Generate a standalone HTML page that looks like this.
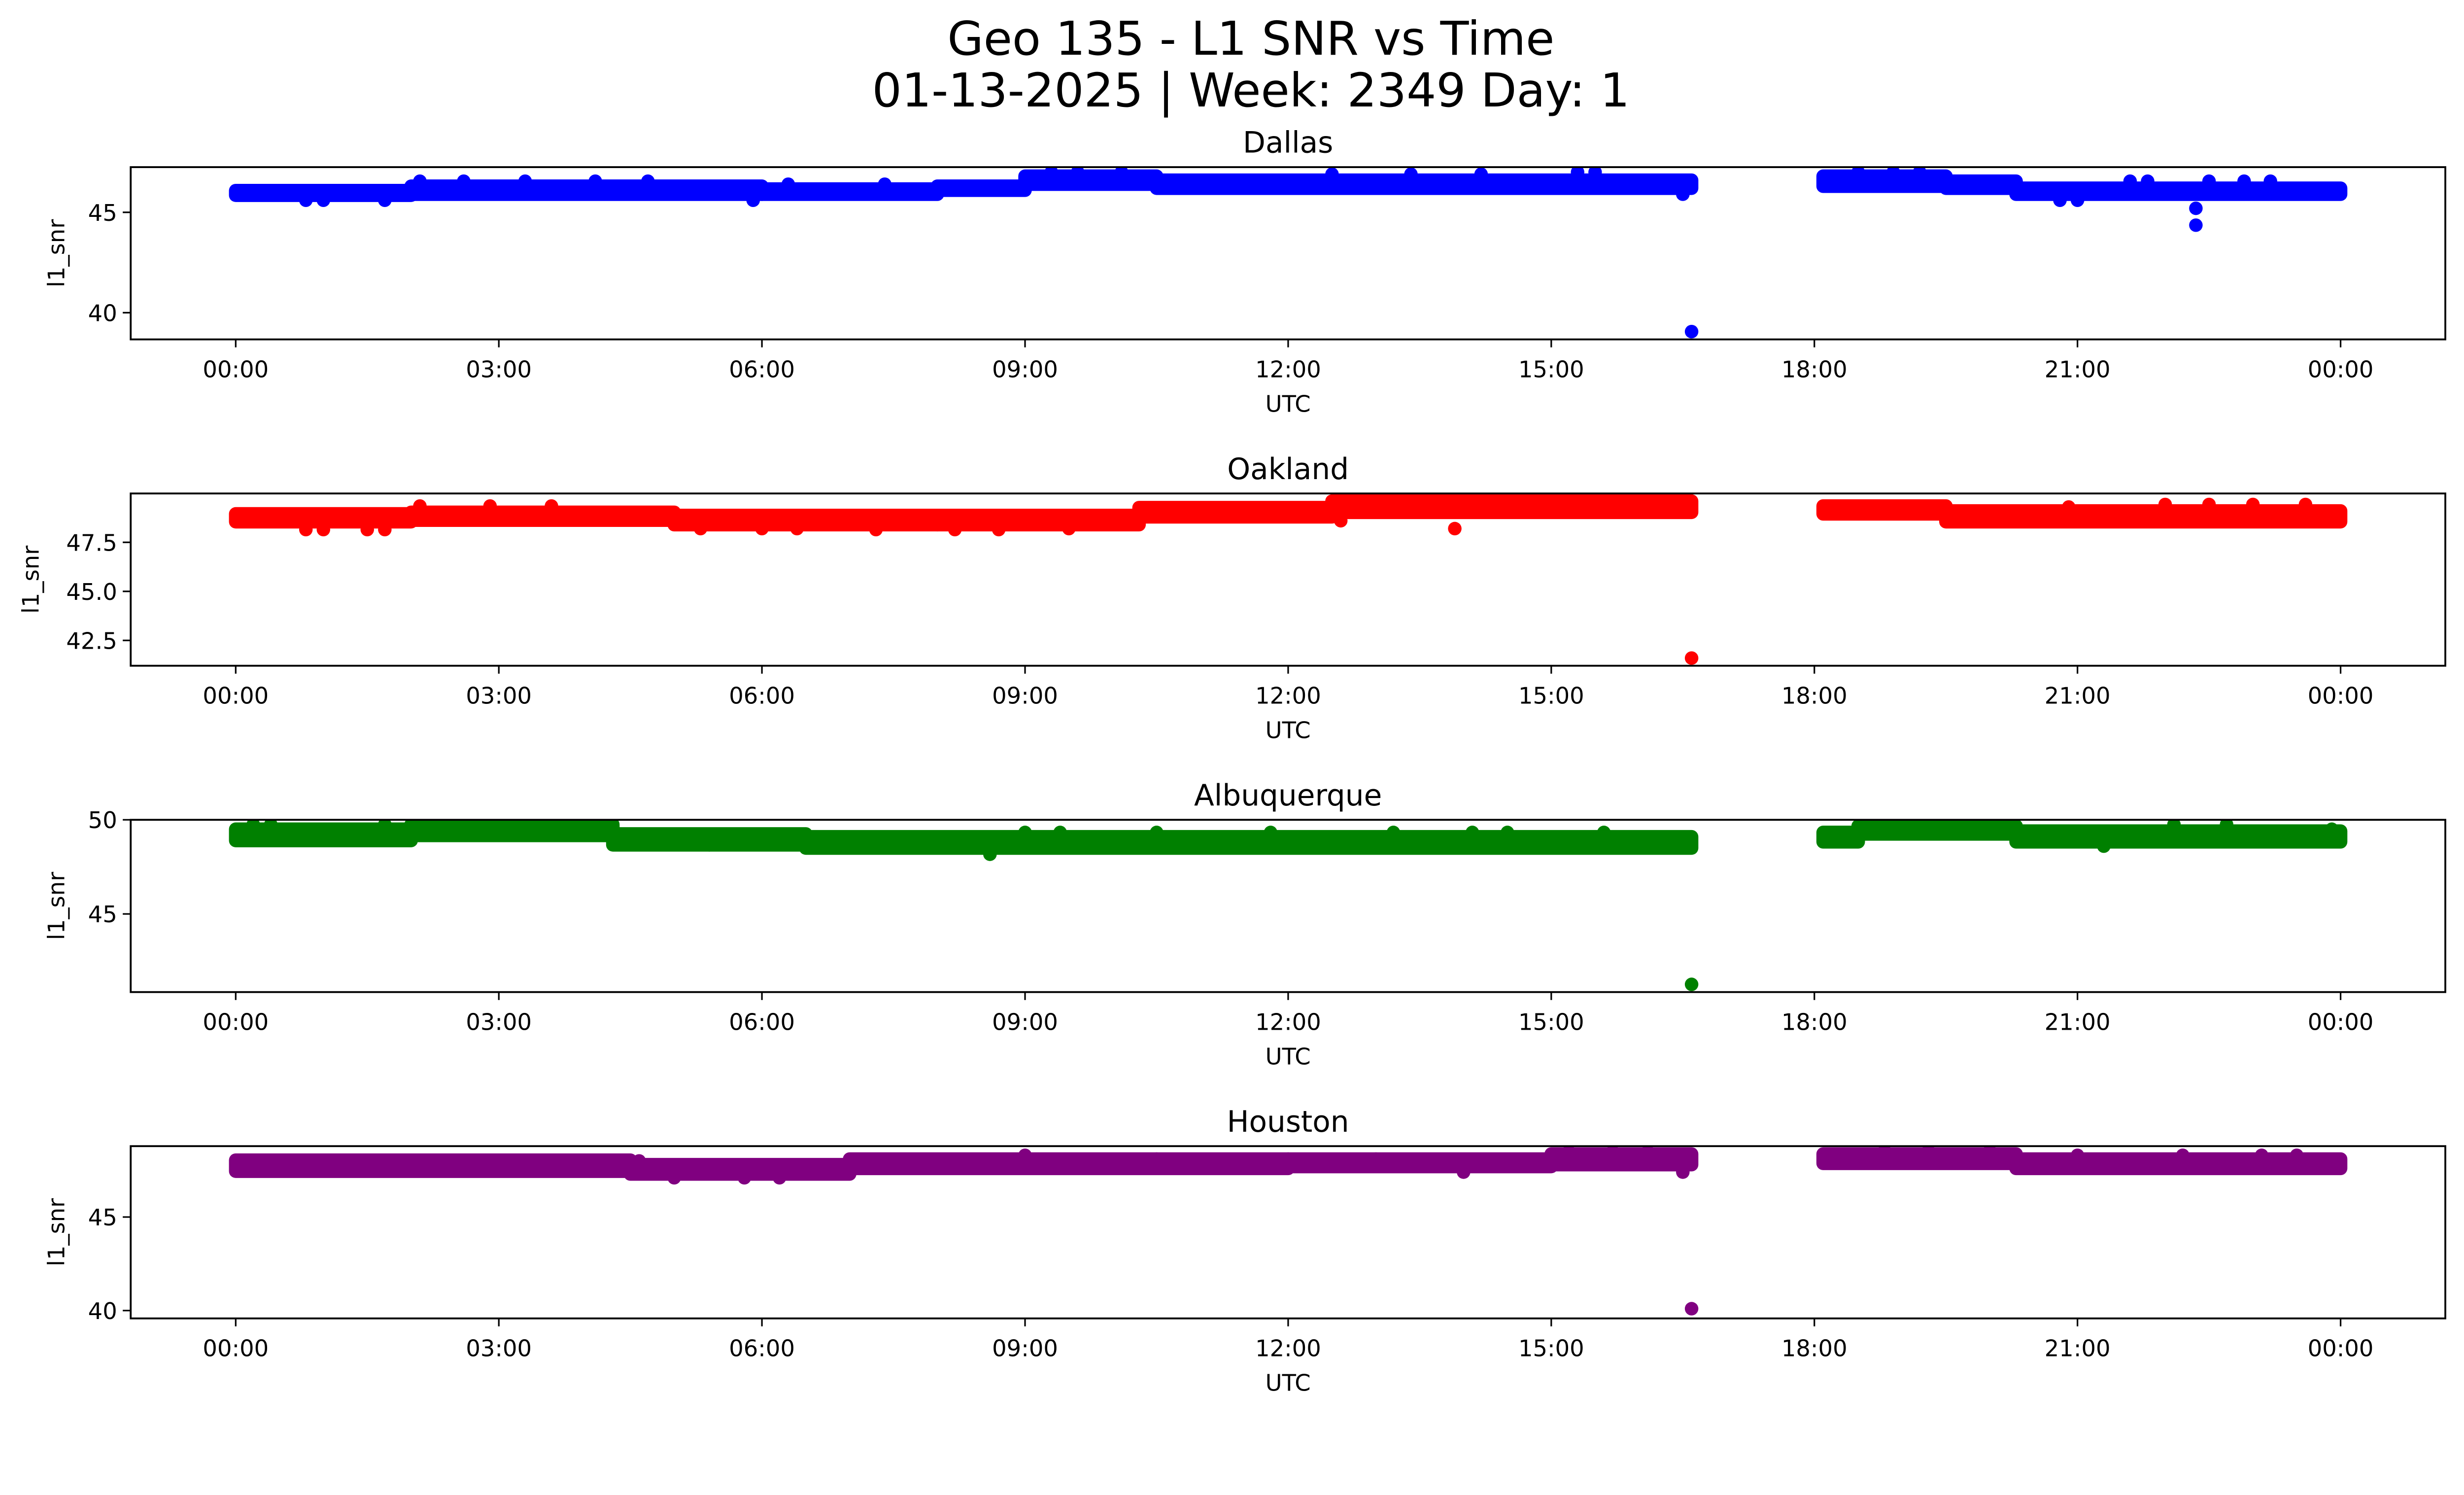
<!DOCTYPE html>
<html><head><meta charset="utf-8">
<style>html,body{margin:0;padding:0;background:#fff;overflow:hidden}svg{display:block;width:100vw;height:calc(100vw * 3033 / 5279)}</style>
</head><body>
<svg id="chart" viewBox="0 0 5279 3033" preserveAspectRatio="xMidYMin meet" xmlns="http://www.w3.org/2000/svg" font-family="'DejaVu Sans','Liberation Sans',sans-serif">
<rect width="5279" height="3033" fill="#fff"/>
<text x="2680" y="117" font-size="100" text-anchor="middle">Geo 135 - L1 SNR vs Time</text>
<text x="2680" y="228" font-size="100" text-anchor="middle">01-13-2025 | Week: 2349 Day: 1</text>
<g id="panels"></g>
</svg>
<script>
const xTickLabels = ["00:00","03:00","06:00","09:00","12:00","15:00","18:00","21:00","00:00"];
const xTickHours = [0,3,6,9,12,15,18,21,24];
const stations = ["Dallas","Oakland","Albuquerque","Houston"];
const colors = ["#0000ff","#ff0000","#008000","#800080"];
const yMins = [38.67, 41.21, 40.85, 39.58];
const yMaxs = [47.25, 49.99, 50.0, 48.79];
const yTicks = [[40,45],[42.5,45,47.5],[45,50],[40,45]];
const yTickLabels = [["40","45"],["42.5","45.0","47.5"],["45","50"],["40","45"]];
// band segments: [startHour, endHour, highValue, lowValue]
const dallasBands = [[0,2,46.08,45.85],[2,6,46.3,45.9],[6,8,46.16,45.9],[8,9,46.3,46.1],[9,10.5,46.8,46.4],[10.5,16.6,46.6,46.2],[18.1,19.5,46.8,46.3],[19.5,20.3,46.55,46.2],[20.3,24,46.2,45.9]];
const oaklandBands = [[0,2,48.95,48.55],[2,5,49.03,48.63],[5,8,48.87,48.4],[8,10.3,48.87,48.4],[10.3,12.5,49.27,48.8],[12.5,16.6,49.6,49.03],[18.1,19.5,49.35,48.95],[19.5,24,49.1,48.55]];
const albuBands = [[0,2,49.5,48.9],[2,4.3,49.75,49.17],[4.3,6.5,49.25,48.67],[6.5,16.6,49.1,48.5],[18.1,18.5,49.33,48.83],[18.5,20.3,49.67,49.25],[20.3,24,49.4,48.83]];
const houstonBands = [[0,4.5,48.04,47.45],[4.5,7,47.8,47.3],[7,12,48.1,47.6],[12,15,48.1,47.7],[15,16.6,48.37,47.8],[18.1,20.3,48.37,47.87],[20.3,24,48.1,47.6]];
// individual points: [hour, value]
const dallasPoints = [[0.8,45.6],[1.0,45.6],[1.7,45.6],[2.1,46.55],[2.6,46.55],[3.3,46.55],[4.1,46.55],[4.7,46.55],[5.9,45.6],[6.3,46.4],[7.4,46.4],[9.3,47.0],[9.6,47.0],[10.1,47.0],[12.5,46.9],[13.4,46.9],[14.2,46.9],[15.3,47.0],[15.5,47.0],[16.5,45.9],[16.6,39.06],[18.5,47.0],[18.9,47.0],[19.2,47.0],[20.8,45.6],[21.0,45.6],[21.6,46.55],[21.8,46.55],[22.35,45.2],[22.35,44.36],[22.5,46.55],[22.9,46.55],[23.2,46.55]];
const oaklandPoints = [[0.8,48.15],[1.0,48.15],[1.5,48.15],[1.7,48.15],[2.1,49.35],[2.9,49.35],[3.6,49.35],[5.3,48.2],[6.0,48.2],[6.4,48.2],[7.3,48.15],[8.2,48.15],[8.7,48.15],[9.5,48.2],[12.6,48.6],[13.0,49.75],[13.6,49.75],[13.9,48.2],[14.4,49.75],[14.9,49.75],[15.6,49.75],[16.6,41.6],[19.5,48.6],[20.9,49.3],[22.0,49.43],[22.5,49.43],[23.0,49.43],[23.6,49.43]];
const albuPoints = [[0.2,49.75],[0.4,49.75],[1.7,49.75],[2.1,49.75],[2.6,49.75],[3.5,49.75],[4.2,49.75],[5.4,48.67],[6.5,48.67],[8.6,48.17],[9.0,49.33],[9.4,49.33],[10.5,49.33],[11.8,49.33],[13.2,49.33],[14.1,49.33],[14.5,49.33],[15.6,49.33],[16.6,41.26],[18.5,49.67],[19.1,49.45],[21.3,48.6],[22.1,49.75],[22.7,49.75],[23.9,49.5]];
const houstonPoints = [[0.4,48.04],[1.0,48.04],[2.0,48.04],[2.5,48.04],[3.6,48.04],[4.6,48.0],[5.0,47.1],[5.8,47.1],[6.2,47.1],[7.0,48.0],[9.0,48.3],[10.5,48.1],[13.0,48.1],[14.0,47.4],[15.2,48.5],[15.7,48.5],[16.1,48.5],[16.5,47.4],[16.6,40.1],[18.8,48.54],[19.3,48.54],[20.0,48.54],[21.0,48.3],[22.2,48.3],[23.1,48.3],[23.5,48.3]];
const allBands = [dallasBands, oaklandBands, albuBands, houstonBands];
const allPoints = [dallasPoints, oaklandPoints, albuPoints, houstonPoints];

const NS = "http://www.w3.org/2000/svg";
const AX_L = 280, AX_R = 5239, AX_H = 369, X0 = 505, PX_PER_H = 187.9;
const TOPS = [358, 1057, 1756, 2455];
const R = 14.5;
function mk(tag, attrs, parent){const e=document.createElementNS(NS,tag);for(const k in attrs)e.setAttribute(k,attrs[k]);parent.appendChild(e);return e;}
function xScale(h){return X0 + h*PX_PER_H;}
const root = document.getElementById('panels');
stations.forEach((name, i) => {
  const top = TOPS[i], bot = top + AX_H;
  const yScale = v => bot - (v - yMins[i]) / (yMaxs[i] - yMins[i]) * AX_H;
  const g = mk('g', {}, root);
  
  
  const clipId = 'clip' + i;
  const cp = mk('clipPath', {id: clipId}, g);
  mk('rect', {x: AX_L, y: top, width: AX_R - AX_L, height: AX_H}, cp);
  const marks = mk('g', {'clip-path': 'url(#' + clipId + ')', fill: colors[i]}, g);
  
  
  allBands[i].forEach(b => {
    const x1 = xScale(b[0]) - R, x2 = xScale(b[1]) + R;
    const y1 = yScale(b[2]) - R, y2 = yScale(b[3]) + R;
    const r = mk('rect', {x: x1, y: y1, width: x2 - x1, height: y2 - y1, rx: R, ry: R}, marks);
    
    
  });
  allPoints[i].forEach(p => {
    const c = mk('circle', {cx: xScale(p[0]), cy: yScale(p[1]), r: R}, marks);
    
    
  });
  const frame = mk('rect', {x: AX_L, y: top, width: AX_R - AX_L, height: AX_H, fill: 'none', stroke: '#000', 'stroke-width': 4}, g);
  
  
  xTickHours.forEach((h, k) => {
    const x = xScale(h);
    const t = mk('line', {x1: x, x2: x, y1: bot, y2: bot + 17, stroke: '#000', 'stroke-width': 3.4}, g);
    
    
    const lb = mk('text', {x: x, y: bot + 81, 'font-size': 49, 'text-anchor': 'middle'}, g);
    lb.textContent = xTickLabels[k];
    
    
  });
  yTicks[i].forEach((v, k) => {
    const y = yScale(v);
    const t = mk('line', {x1: AX_L - 17, x2: AX_L, y1: y, y2: y, stroke: '#000', 'stroke-width': 3.4}, g);
    
    
    const lb = mk('text', {x: AX_L - 29, y: y + 18, 'font-size': 49, 'text-anchor': 'end'}, g);
    lb.textContent = yTickLabels[i][k];
    
    
  });
  const xl = mk('text', {x: (AX_L + AX_R) / 2, y: bot + 155, 'font-size': 49, 'text-anchor': 'middle'}, g);
  xl.textContent = 'UTC';
  
  
  const ylx = (i === 1) ? 83 : 138;
  const yc = top + AX_H / 2;
  const yl = mk('text', {x: ylx, y: yc, 'font-size': 49, 'text-anchor': 'middle', transform: 'rotate(-90 ' + ylx + ' ' + yc + ')'}, g);
  yl.textContent = 'l1_snr';
  
  
  const tt = mk('text', {x: (AX_L + AX_R) / 2, y: top - 31, 'font-size': 63, 'text-anchor': 'middle'}, g);
  tt.textContent = name;
  
  
});
</script>
</body></html>
